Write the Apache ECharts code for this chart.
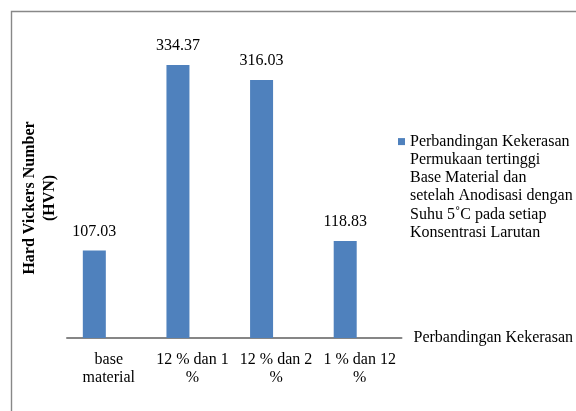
<!DOCTYPE html>
<html>
<head>
<meta charset="utf-8">
<script src="https://cdn.jsdelivr.net/npm/echarts@6/dist/echarts.min.js"></script>
<style>
  html, body { margin: 0; padding: 0; background: #fff; }
  #chart { width: 576px; height: 411px; }
</style>
</head>
<body>
<div id="chart"></div>
<script>
// Hardness comparison data (HVN)
const categories = ['base\nmaterial', '12 % dan 1\n%', '12 % dan 2\n%', '1 % dan 12\n%'];
const hardness = [107.03, 334.37, 316.03, 118.83];
const seriesName = 'Perbandingan Kekerasan\nPermukaan tertinggi\nBase Material dan\nsetelah Anodisasi dengan\nSuhu 5˚C pada setiap\nKonsentrasi Larutan';
const xAxisTitle = 'Perbandingan Kekerasan';
const yAxisTitle = 'Hard Vickers Number\n(HVN)';

const serif = '"Liberation Serif", "Times New Roman", serif';

const chart = echarts.init(document.getElementById('chart'), null, { renderer: 'canvas' });

// Legend text is centred on its marker; leading blank lines put the
// marker beside the first line of the multi-line series name.
function legendText(name) {
  const lines = name.split('\n').length;
  return '\n'.repeat(lines - 1) + name;
}

chart.setOption({
  animation: false,
  backgroundColor: '#fff',
  grid: { left: 67, right: 173, top: 11.4, bottom: 73, containLabel: false },
  legend: {
    data: [seriesName],
    left: 398,
    top: 41.5,
    padding: 0,
    icon: 'rect',
    itemWidth: 7,
    itemHeight: 7,
    selectedMode: false,
    formatter: legendText,
    textStyle: {
      fontFamily: serif,
      fontSize: 16,
      color: '#000',
      lineHeight: 18.2
    }
  },
  xAxis: {
    type: 'category',
    data: categories,
    axisLine: { lineStyle: { color: '#868686', width: 2 } },
    axisTick: { show: false },
    axisLabel: {
      fontFamily: serif,
      fontSize: 16,
      color: '#000',
      lineHeight: 18,
      margin: 13,
      interval: 0
    },
    name: xAxisTitle,
    nameLocation: 'end',
    nameGap: 12,
    nameTextStyle: {
      fontFamily: serif,
      fontSize: 16,
      color: '#000',
      align: 'left',
      verticalAlign: 'middle'
    }
  },
  yAxis: {
    type: 'value',
    min: 0,
    max: 400,
    show: false,
    splitLine: { show: false }
  },
  series: [
    {
      name: seriesName,
      type: 'bar',
      data: hardness,
      barWidth: 23,
      barGap: '26%',
      itemStyle: { color: '#4F81BD' },
      label: {
        show: true,
        position: 'top',
        distance: 11,
        fontFamily: serif,
        fontSize: 16,
        color: '#000',
        formatter: p => p.value.toFixed(2)
      }
    },
    {
      // empty second slot in each category
      name: 'slot',
      type: 'bar',
      data: [],
      barWidth: 23
    }
  ],
  graphic: [
    {
      type: 'rect',
      silent: true,
      shape: { x: 11.5, y: 11.5, width: 620, height: 450 },
      style: { fill: 'none', stroke: '#888', lineWidth: 1.4 }
    },
    {
      type: 'text',
      silent: true,
      x: 40,
      y: 198,
      rotation: Math.PI / 2,
      style: {
        text: yAxisTitle,
        fontFamily: serif,
        fontSize: 16,
        fontWeight: 'bold',
        lineHeight: 20,
        fill: '#000',
        align: 'center',
        verticalAlign: 'middle'
      }
    }
  ]
});
</script>
</body>
</html>
